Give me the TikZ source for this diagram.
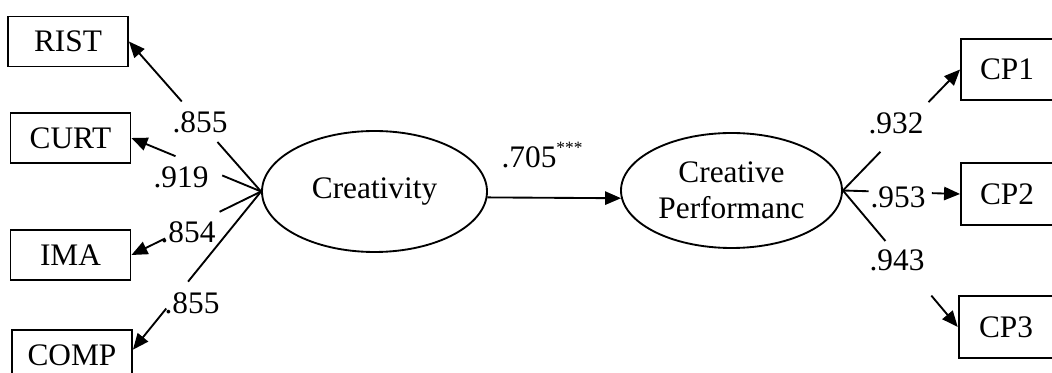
\documentclass[tikz,border=0pt]{standalone}
\usepackage{fontspec}
\setmainfont{Liberation Serif}
\usetikzlibrary{arrows.meta,shapes.geometric}

\begin{document}
\begin{tikzpicture}[x=0.75pt,y=-0.75pt,
  every node/.style={font=\fontsize{23.5}{27}\selectfont},
  ind/.style={draw,line width=1.4pt,minimum width=90pt,minimum height=37.5pt,inner sep=0pt},
  lat/.style={draw,ellipse,line width=1.4pt,inner sep=0pt,align=center},
  lab/.style={inner sep=1pt},
  conn/.style={line width=1.4pt},
  arr/.style={line width=1.4pt,-{Triangle[length=12pt,width=10pt]}}]

\useasboundingbox (0,0) rectangle (1052,373);
\clip (0,0) rectangle (1052,373);

% observed indicators of creativity
\node[ind] (rist) at (68,41.5) {RIST};
\node[ind] (curt) at (70.5,138) {CURT};
\node[ind] (ima)  at (70.5,255) {IMA};
\node[ind] (comp) at (72,355) {COMP};

% observed indicators of creative performance
\node[ind,minimum width=69pt,minimum height=46pt] (cp1) at (1007,69.5) {CP1};
\node[ind,minimum width=69pt,minimum height=46.5pt] (cp2) at (1007,194) {CP2};
\node[ind,minimum width=71pt,minimum height=46.5pt] (cp3) at (1006,327) {CP3};

% latent constructs
\node[lat,minimum width=168.75pt,minimum height=90.75pt] (cre) at (374.5,191.5) {Creativity};
\node[lat,minimum width=165.75pt,minimum height=86.25pt] (perf) at (731.5,190.5) {Creative\\Performanc};

% structural path
\draw[arr] (cre.-3.5) -- (perf.184);
\node[lab] (b0) at (542,155) {.705\raisebox{0.42em}{\fontsize{13}{13}\selectfont ***}};

% loadings of creativity (lines broken around the labels)
\path (cre.west) -- (rist.east) coordinate[pos=0.33] (r1) coordinate[pos=0.6] (r2);
\draw[conn] (cre.west) -- (r1);
\draw[arr] (r2) -- (rist.east);
\node[lab] (l1) at (200,122) {.855};

\path (cre.west) -- (curt.east) coordinate[pos=0.30] (c1) coordinate[pos=0.66] (c2);
\draw[conn] (cre.west) -- (c1);
\draw[arr] (c2) -- (curt.east);
\node[lab] (l2) at (181,177) {.919};

\path (cre.west) -- (ima.east) coordinate[pos=0.32] (i1) coordinate[pos=0.74] (i2);
\draw[conn] (cre.west) -- (i1);
\draw[arr] (i2) -- (ima.east);
\node[lab] (l3) at (188,232) {.854};

\path (cre.west) -- (comp.5) coordinate[pos=0.57] (m1) coordinate[pos=0.74] (m2);
\draw[conn] (cre.west) -- (m1);
\draw[arr] (m2) -- (comp.5);
\node[lab] (l4) at (192,303) {.855};

% loadings of creative performance
\path (perf.east) -- (cp1.west) coordinate[pos=0.32] (p1) coordinate[pos=0.73] (p2);
\draw[conn] (perf.east) -- (p1);
\draw[arr] (p2) -- (cp1.west);
\node[lab] (l5) at (896,123) {.932};

\path (perf.east) -- (cp2.west) coordinate[pos=0.22] (q1) coordinate[pos=0.76] (q2);
\draw[conn] (perf.east) -- (q1);
\draw[arr] (q2) -- (cp2.west);
\node[lab] (l6) at (898,197) {.953};

\path (perf.east) -- (cp3.west) coordinate[pos=0.37] (s1) coordinate[pos=0.77] (s2);
\draw[conn] (perf.east) -- (s1);
\draw[arr] (s2) -- (cp3.west);
\node[lab] (l7) at (897,260) {.943};
\end{tikzpicture}
\end{document}
